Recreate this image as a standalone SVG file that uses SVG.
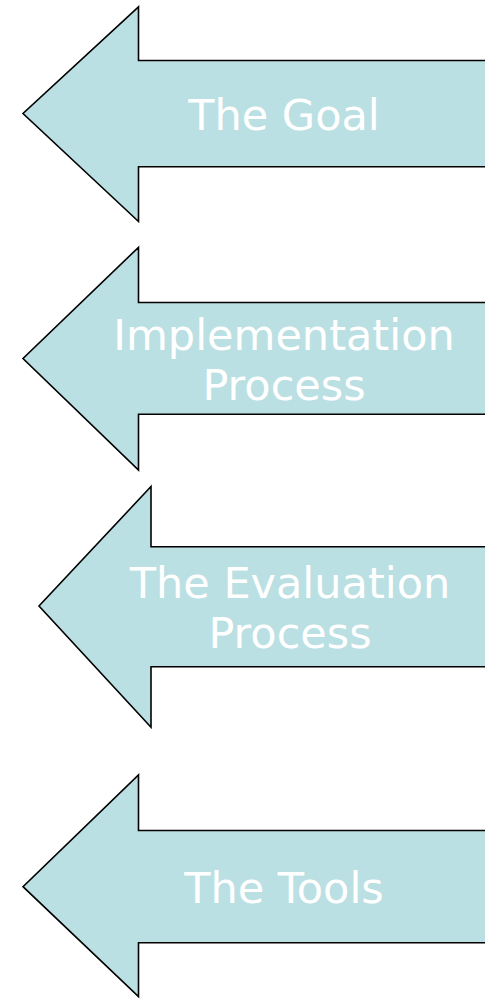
<svg xmlns="http://www.w3.org/2000/svg" width="485" height="999" viewBox="0 0 485 999">
<style>
.arrow{fill:#BBE0E3;stroke:#000;stroke-width:1.6;stroke-linejoin:miter}
.lbl{fill:#fff;font-family:"DejaVu Sans",Verdana,sans-serif;font-size:43px;text-anchor:middle}
</style>
<rect width="485" height="999" fill="#fff"/>
<g id="goal">
<path class="arrow" d="M490,60.5 H138.5 V6.8 L23,113.5 L138.5,221.5 V166.7 H490 Z"/>
<text class="lbl" x="284" y="130">The Goal</text>
</g>
<g id="implementation">
<path class="arrow" d="M490,302.5 H138.5 V247.3 L23,358.5 L138.5,470 V414.3 H490 Z"/>
<text class="lbl" x="284" y="350">Implementation</text>
<text class="lbl" x="284" y="400">Process</text>
</g>
<g id="evaluation">
<path class="arrow" d="M490,546.7 H151 V486.5 L39,606 L151,727.3 V666.7 H490 Z"/>
<text class="lbl" x="290" y="598">The Evaluation</text>
<text class="lbl" x="290" y="648">Process</text>
</g>
<g id="tools">
<path class="arrow" d="M490,830.5 H138.5 V775 L23,886.7 L138.5,996.7 V942.7 H490 Z"/>
<text class="lbl" x="284" y="903">The Tools</text>
</g>
<g id="connectors"></g>
</svg>
